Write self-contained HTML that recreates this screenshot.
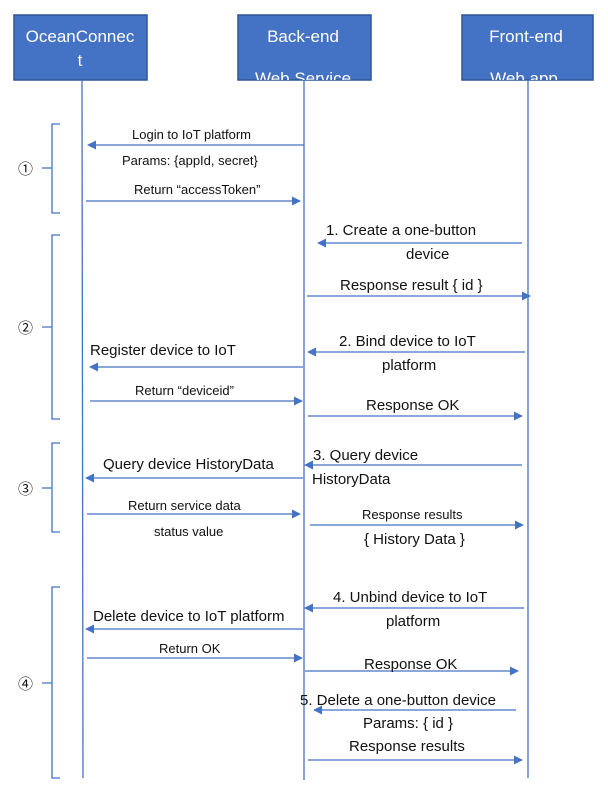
<!DOCTYPE html>
<html><head><meta charset="utf-8"><style>
html,body{margin:0;padding:0;background:#fff;}
svg{display:block;}
text{font-family:"Liberation Sans","Noto Sans CJK SC",sans-serif;fill:#111;}
.n{font-size:15px;}
.b{font-size:13px;}
.h{font-size:17px;fill:#fff;}
</style></head><body>
<svg width="608" height="786" viewBox="0 0 608 786" xmlns="http://www.w3.org/2000/svg">
<defs>
<marker id="a" viewBox="0 0 10 10" refX="9" refY="5" markerWidth="9" markerHeight="9" markerUnits="userSpaceOnUse" orient="auto"><path d="M0,0 L10,5 L0,10 z" fill="#4472C4"/></marker>
<clipPath id="c1"><rect x="15" y="16" width="132" height="64"/></clipPath>
<clipPath id="c2"><rect x="239" y="16" width="132" height="64"/></clipPath>
<clipPath id="c3"><rect x="463" y="16" width="130" height="64"/></clipPath>
</defs>
<rect x="14" y="15" width="133" height="65" fill="#4472C4" stroke="#2F5597" stroke-width="1.5"/>
<rect x="238" y="15" width="133" height="65" fill="#4472C4" stroke="#2F5597" stroke-width="1.5"/>
<rect x="462" y="15" width="131" height="65" fill="#4472C4" stroke="#2F5597" stroke-width="1.5"/>
<g clip-path="url(#c1)"><text class="h" x="80" y="42" text-anchor="middle">OceanConnec</text><text class="h" x="80" y="66" text-anchor="middle">t</text></g>
<g clip-path="url(#c2)"><text class="h" x="303" y="42" text-anchor="middle">Back-end</text><text class="h" x="303" y="84" text-anchor="middle">Web Service</text></g>
<g clip-path="url(#c3)"><text class="h" x="526" y="42" text-anchor="middle">Front-end</text><text class="h" x="524" y="84" text-anchor="middle">Web app</text></g>
<g stroke="#4472C4" stroke-width="1.3" fill="none">
<line x1="82" y1="80" x2="83" y2="778"/>
<line x1="304" y1="80" x2="304" y2="780"/>
<line x1="528" y1="80" x2="528" y2="778"/>
</g>
<g stroke="#4472C4" stroke-width="1.3" fill="none">
<path d="M60,124 H52 V213 H60 M52,168 H42"/>
<path d="M60,235 H52 V419 H60 M52,327 H42"/>
<path d="M60,443 H52 V532 H60 M52,488 H42"/>
<path d="M60,587 H52 V778 H60 M52,683 H42"/>
</g>
<text class="n" x="18" y="174" font-size="17">①</text>
<text class="n" x="18" y="333" font-size="17">②</text>
<text class="n" x="18" y="494" font-size="17">③</text>
<text class="n" x="18" y="689" font-size="17">④</text>
<g stroke="#4472C4" stroke-width="1.3" marker-end="url(#a)">
<line x1="304" y1="145" x2="88" y2="145"/>
<line x1="86" y1="201" x2="300" y2="201"/>
<line x1="522" y1="243" x2="318" y2="243"/>
<line x1="307" y1="296" x2="530" y2="296"/>
<line x1="525" y1="352" x2="308" y2="352"/>
<line x1="303" y1="367" x2="90" y2="367"/>
<line x1="90" y1="401" x2="302" y2="401"/>
<line x1="308" y1="416" x2="522" y2="416"/>
<line x1="522" y1="465" x2="305" y2="465"/>
<line x1="303" y1="478" x2="86" y2="478"/>
<line x1="87" y1="514" x2="300" y2="514"/>
<line x1="310" y1="525" x2="523" y2="525"/>
<line x1="524" y1="608" x2="305" y2="608"/>
<line x1="303" y1="629" x2="86" y2="629"/>
<line x1="87" y1="658" x2="302" y2="658"/>
<line x1="305" y1="671" x2="518" y2="671"/>
<line x1="516" y1="710" x2="314" y2="710"/>
<line x1="308" y1="760" x2="522" y2="760"/>
</g>
<text class="b" x="132" y="139">Login to IoT platform</text>
<text class="b" x="122" y="165">Params: {appId, secret}</text>
<text class="b" x="134" y="194">Return “accessToken”</text>
<text class="n" x="326" y="235">1.    Create a one-button</text>
<text class="n" x="406" y="259">device</text>
<text class="n" x="340" y="290">Response result { id }</text>
<text class="n" x="339" y="346">2. Bind device to IoT</text>
<text class="n" x="382" y="370">platform</text>
<text class="n" x="90" y="355">Register device to IoT</text>
<text class="b" x="135" y="395">Return “deviceid”</text>
<text class="n" x="366" y="410">Response OK</text>
<text class="n" x="313" y="460">3. Query device</text>
<text class="n" x="312" y="484">HistoryData</text>
<text class="n" x="103" y="469">Query device HistoryData</text>
<text class="b" x="128" y="510">Return service data</text>
<text class="b" x="154" y="536">status value</text>
<text class="b" x="362" y="519">Response results</text>
<text class="n" x="364" y="544">{ History Data }</text>
<text class="n" x="333" y="602">4. Unbind device to IoT</text>
<text class="n" x="386" y="626">platform</text>
<text class="n" x="93" y="621">Delete device to IoT platform</text>
<text class="b" x="159" y="653">Return OK</text>
<text class="n" x="364" y="669">Response OK</text>
<text class="n" x="300" y="705">5. Delete a one-button device</text>
<text class="n" x="363" y="728">Params: { id }</text>
<text class="n" x="349" y="751">Response results</text>
</svg>
</body></html>
